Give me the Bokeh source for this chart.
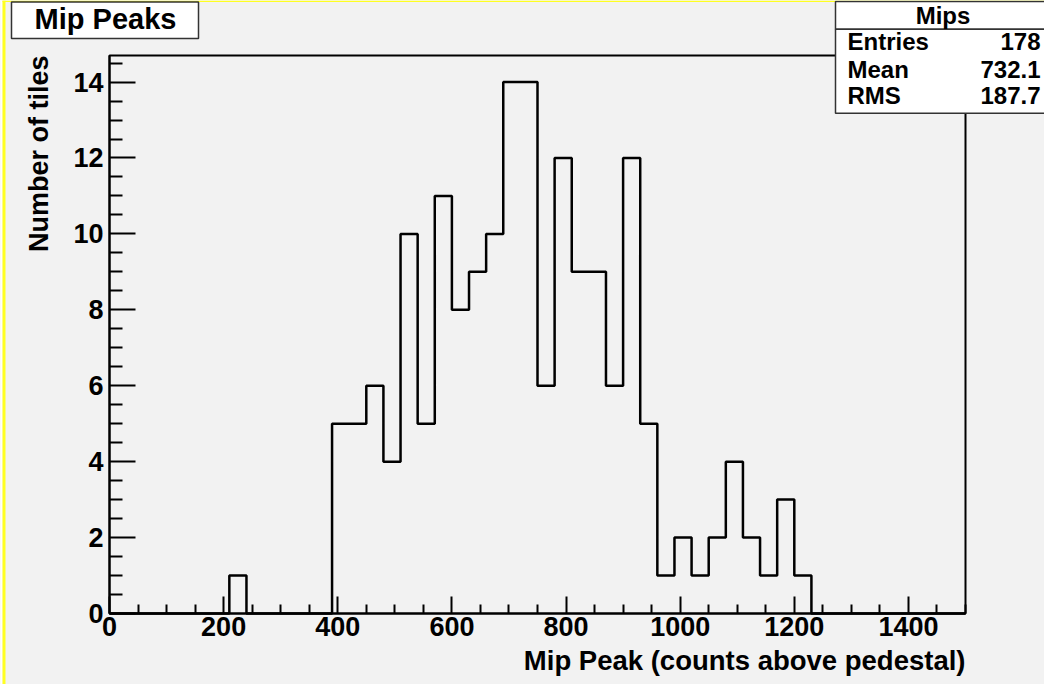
from bokeh.plotting import figure
from bokeh.models import Range1d, FixedTicker, Label, BoxAnnotation
from bokeh.embed import file_html
from bokeh.resources import INLINE

# ---- data ----
bin_edges = [0, 30, 60, 90, 120, 150, 180, 210, 240, 270, 300, 330, 360, 390,
             420, 450, 480, 510, 540, 570, 600, 630, 660, 690, 720, 750, 780,
             810, 840, 870, 900, 930, 960, 990, 1020, 1050, 1080, 1110, 1140,
             1170, 1200, 1230, 1260, 1290, 1320, 1350, 1380, 1410, 1440, 1470,
             1500]
counts = [0, 0, 0, 0, 0, 0, 0, 1, 0, 0, 0, 0, 0, 5,
          5, 6, 4, 10, 5, 11, 8, 9, 10, 14, 14, 6, 12,
          9, 9, 6, 12, 5, 1, 2, 1, 2, 4, 2, 1,
          3, 1, 0, 0, 0, 0, 0, 0, 0, 0, 0]
x_ticks = [0, 200, 400, 600, 800, 1000, 1200, 1400]
x_minor = [50, 100, 150, 250, 300, 350, 450, 500, 550, 650, 700, 750, 850, 900,
           950, 1050, 1100, 1150, 1250, 1300, 1350, 1450, 1500]
y_ticks = [0, 2, 4, 6, 8, 10, 12, 14]
y_minor = [0.5, 1, 1.5, 2.5, 3, 3.5, 4.5, 5, 5.5, 6.5, 7, 7.5, 8.5, 9, 9.5,
           10.5, 11, 11.5, 12.5, 13, 13.5, 14.5]
x_min, x_max = 0, 1500
y_min, y_max = 0, 14.7
title_text = "Mip Peaks"
x_title = "Mip Peak (counts above pedestal)"
y_title = "Number of tiles"
stats_name = "Mips"
stats_labels = ["Entries", "Mean", "RMS"]
stats_values = ["178", "732.1", "187.7"]

FONT = "Liberation Sans"
BG = "#f2f2f2"
W, H = 1044, 684
# frame box (ROOT pad frame) in canvas pixels
FL, FR, FT, FB = 109, 965, 55, 613

kx = (FR - FL) / (x_max - x_min)
ky = (FB - FT) / (y_max - y_min)
xr = Range1d(x_min - FL / kx, x_max + (W - FR) / kx)
yr = Range1d(y_min - (H - FB) / ky, y_max + FT / ky)

p = figure(width=W, height=H, x_range=xr, y_range=yr,
           output_backend="svg", toolbar_location=None, min_border=0)
p.background_fill_color = BG
p.border_fill_color = BG
p.outline_line_alpha = 0
p.xgrid.visible = False
p.ygrid.visible = False

def sx(fx):
    return fx

def sy(fy):
    return H - fy

def sbox(l, t, r, b, **kw):
    return BoxAnnotation(left=sx(l), right=sx(r), top=sy(t), bottom=sy(b),
                         left_units="screen", right_units="screen",
                         top_units="screen", bottom_units="screen", **kw)

# canvas decorations: white strip + yellow border lines
p.add_layout(sbox(0, 0, 2, H, fill_color="white", fill_alpha=1, line_alpha=0))
p.add_layout(sbox(2, 0, 5, H, fill_color="#ffff22", fill_alpha=1, line_alpha=0))
p.add_layout(sbox(2, 0, W, 1.5, fill_color="#ffff22", fill_alpha=1, line_alpha=0))

# histogram outline
p.step(x=bin_edges, y=counts + [counts[-1]], mode="after", line_color="black", line_width=2.5)

# frame rectangle
p.add_layout(BoxAnnotation(left=x_min, right=x_max, bottom=y_min, top=y_max,
                           fill_alpha=0, line_color="black", line_width=2, line_alpha=1))

for ax, tk, mn, tin, minin, loc, bnds in (
        (p.xaxis[0], x_ticks, x_minor, 17, 9, y_min, (x_min, x_max)),
        (p.yaxis[0], y_ticks, y_minor, 26, 13, x_min, (y_min, y_max))):
    ax.fixed_location = loc
    ax.bounds = bnds
    ax.ticker = FixedTicker(ticks=tk, minor_ticks=mn)
    ax.major_tick_in = tin
    ax.major_tick_out = 0
    ax.minor_tick_in = minin
    ax.minor_tick_out = 0
    ax.major_tick_line_width = 2
    ax.minor_tick_line_width = 2
    ax.major_tick_line_color = "black"
    ax.minor_tick_line_color = "black"
    ax.axis_line_width = 2
    ax.axis_line_color = "black"
    ax.major_label_text_font = FONT
    ax.major_label_text_font_style = "bold"
    ax.major_label_text_font_size = "27px"
    ax.major_label_text_color = "black"
p.xaxis.major_label_standoff = 3
p.yaxis.major_label_standoff = 6

def box(l, t, r, b):
    p.add_layout(sbox(l, t, r, b, fill_color="white", fill_alpha=1,
                      line_color="#333333", line_width=1.5, line_alpha=1))

SHIFT = 0.35  # renderer places alphabetic baseline ~0.35 em lower; compensate

def text(fx, fy, s, size, align, angle=0.0):
    d = SHIFT * size
    if angle:
        fx = fx - d
    else:
        fy = fy - d
    p.add_layout(Label(x=sx(fx), y=sy(fy), x_units="screen", y_units="screen", text=s,
                       angle=angle, text_font=FONT, text_font_style="bold",
                       text_font_size=f"{size}px", text_align=align,
                       text_baseline="alphabetic", text_color="black"))

# title box
box(11, 1.5, 198, 38)
text(105, 29, title_text, 29, "center")

# stats box
box(835, 1.0, 1060, 28.7)
box(835, 28.7, 1060, 112.7)
text(942.5, 23.7, stats_name, 24, "center")
for lab, val, fy in zip(stats_labels, stats_values, [49.3, 77, 103.7]):
    text(847, fy, lab, 24, "left")
    text(1040, fy, val, 24, "right")

# axis titles (ROOT style: right / top aligned)
text(FR, 670, x_title, 27.5, "right")
text(48, FT, y_title, 27, "right", angle=1.5707963267948966)

open("out.html", "w").write(file_html(p, INLINE))
